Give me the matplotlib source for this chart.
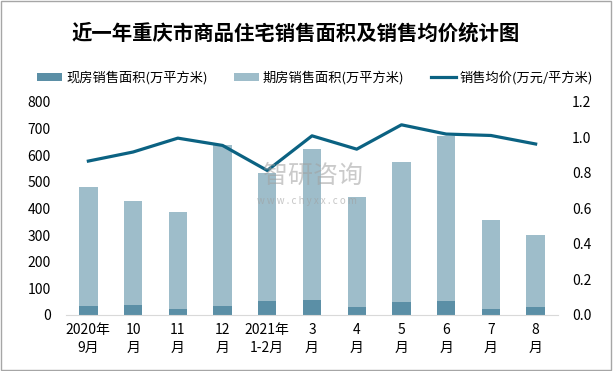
import matplotlib.pyplot as plt
import numpy as np
from matplotlib.patches import Rectangle

plt.rcParams['font.family'] = ['Noto Sans CJK SC', 'DejaVu Sans']

# Data
months = ['2020年\n9月', '10\n月', '11\n月', '12\n月', '2021年\n1-2月', '3\n月',
          '4\n月', '5\n月', '6\n月', '7\n月', '8\n月']
existing_area = [34, 37, 22, 34, 52, 56, 30, 49, 52, 22, 30]
total_area = [479, 428, 386, 638, 532, 623, 441, 574, 671, 356, 300]
presale_area = [t - e for t, e in zip(total_area, existing_area)]
avg_price = [0.866, 0.917, 0.995, 0.954, 0.813, 1.008, 0.933, 1.070, 1.018, 1.010, 0.962]

dark_col = '#5b8fa6'
light_col = '#9ebdca'
line_col = '#0b6282'

fig = plt.figure(figsize=(6.13, 3.71), dpi=100)
ax = fig.add_axes([66 / 613, 1 - 315 / 371, 492 / 613, 213.3 / 371])
x = np.arange(len(months))

b1 = ax.bar(x, existing_area, width=0.41, color=dark_col, zorder=2)
b2 = ax.bar(x, presale_area, width=0.41, bottom=existing_area, color=light_col, zorder=2)

ax.set_xlim(-0.5, len(months) - 0.5)
ax.set_ylim(0, 800)
ax.set_yticks(range(0, 801, 100))
ax.set_xticks(x)
ax.set_xticklabels(months, fontsize=10, linespacing=1.3)
ax.tick_params(axis='both', length=0, labelsize=10)
ax.tick_params(axis='y', pad=11)
ax.tick_params(axis='x', pad=6)
for s in ['top', 'left', 'right']:
    ax.spines[s].set_visible(False)
ax.spines['bottom'].set_color('#d9d9d9')

ax2 = ax.twinx()
l1, = ax2.plot(x, avg_price, color=line_col, lw=2.3, zorder=3)
ax2.set_ylim(0, 1.2)
ax2.set_yticks(np.arange(0, 1.21, 0.2))
ax2.set_yticklabels([f'{v:.1f}' for v in np.arange(0, 1.21, 0.2)])
ax2.tick_params(axis='y', length=0, labelsize=10, pad=10)
for s in ['top', 'left', 'right', 'bottom']:
    ax2.spines[s].set_visible(False)

# watermark
fig.text(0.51, 0.525, '智研咨询', fontsize=18, color='#a0a0a0', alpha=0.55, ha='center', va='center')
fig.text(0.50, 0.458, 'w w w . c h y x x . c o m', fontsize=7, color='#a0a0a0', alpha=0.6,
         ha='center', va='center')

fig.text(0.483, 0.911, '近一年重庆市商品住宅销售面积及销售均价统计图', fontsize=14.7,
         fontweight='bold', ha='center', va='center')

fig.legend([b1, b2, l1], ['现房销售面积(万平方米)', '期房销售面积(万平方米)', '销售均价(万元/平方米)'],
           loc='center', bbox_to_anchor=(0.514, 0.79), ncol=3, frameon=False, fontsize=9.5,
           handlelength=1.9, handleheight=0.6, columnspacing=2.0, handletextpad=0.3)

fig.patches.append(Rectangle((0.002, 0.003), 0.995, 0.993, transform=fig.transFigure,
                             fill=False, edgecolor='#a6a6a6', lw=1))

fig.savefig('out.png', dpi=100)
